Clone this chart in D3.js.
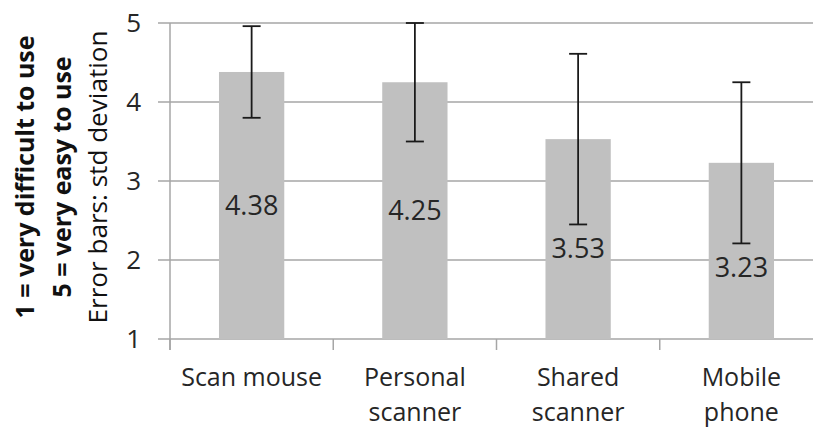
<!DOCTYPE html>
<html><head><meta charset="utf-8">
<script src="https://cdn.jsdelivr.net/npm/d3@7"></script>
<style>body{margin:0;background:#fff}svg{display:block}</style>
</head><body>
<svg id="c" width="813" height="428"></svg>
<script>
const categories = [["Scan mouse"], ["Personal", "scanner"], ["Shared", "scanner"], ["Mobile", "phone"]];
const means = [4.38, 4.25, 3.53, 3.23];
const stdDevs = [0.58, 0.75, 1.08, 1.02];
const valueLabels = ["4.38", "4.25", "3.53", "3.23"];
const yTicks = [1, 2, 3, 4, 5];
const titleLines = ["1 = very difficult to use", "5 = very easy to use", "Error bars: std deviation"];

const svg = d3.select("#c");
const font = "'Open Sans', sans-serif";
const textCol = "#262626";
const gridCol = "#a6a6a6";

const x = d3.scaleBand().domain(d3.range(categories.length)).range([170, 823]).paddingInner(0.6).paddingOuter(0.3);
const y = d3.scaleLinear().domain([1, 5]).range([339, 23]);

// gridlines + y ticks
svg.append("g").selectAll("line").data(yTicks).join("line")
  .attr("x1", 158).attr("x2", 813)
  .attr("y1", d => y(d)).attr("y2", d => y(d))
  .attr("stroke", gridCol).attr("stroke-width", 1.5);

svg.append("g").selectAll("text").data(yTicks).join("text")
  .attr("x", 141).attr("y", d => y(d)).attr("dy", "0.36em")
  .attr("text-anchor", "end").attr("font-family", font).attr("font-size", 26).attr("fill", textCol)
  .text(d => d);

// bars
svg.append("g").selectAll("rect").data(means).join("rect")
  .attr("x", (d, i) => x(i)).attr("width", x.bandwidth())
  .attr("y", d => y(d)).attr("height", d => y(1) - y(d))
  .attr("fill", "#c0c0c0");

// y axis line
svg.append("line").attr("x1", 170).attr("x2", 170).attr("y1", y(5)).attr("y2", y(1) + 11)
  .attr("stroke", gridCol).attr("stroke-width", 1.5);
// category ticks
const step = x.step();
svg.append("g").selectAll("line").data(d3.range(categories.length + 1)).join("line")
  .attr("x1", i => 170 + i * step).attr("x2", i => 170 + i * step)
  .attr("y1", y(1)).attr("y2", y(1) + 11)
  .attr("stroke", gridCol).attr("stroke-width", 1.5);

// error bars
const eb = svg.append("g").attr("stroke", "#1a1a1a").attr("stroke-width", 1.8);
means.forEach((m, i) => {
  const cx = x(i) + x.bandwidth() / 2;
  const top = Math.min(5, m + stdDevs[i]), bot = m - stdDevs[i];
  eb.append("line").attr("x1", cx).attr("x2", cx).attr("y1", y(top)).attr("y2", y(bot));
  eb.append("line").attr("x1", cx - 9).attr("x2", cx + 9).attr("y1", y(top)).attr("y2", y(top));
  eb.append("line").attr("x1", cx - 9).attr("x2", cx + 9).attr("y1", y(bot)).attr("y2", y(bot));
});

// value labels (centered in bar, pushed below error bar when overlapping)
svg.append("g").selectAll("text").data(means).join("text")
  .attr("x", (d, i) => x(i) + x.bandwidth() / 2)
  .attr("y", (d, i) => Math.max((y(d) + y(1)) / 2, y(d - stdDevs[i]) + 24))
  .attr("dy", "0.36em").attr("text-anchor", "middle")
  .attr("font-family", font).attr("font-size", 27).attr("fill", textCol)
  .text((d, i) => valueLabels[i]);

// category labels
const cl = svg.append("g").attr("font-family", font).attr("font-size", 25).attr("fill", textCol).attr("text-anchor", "middle");
categories.forEach((lines, i) => {
  lines.forEach((t, j) => {
    cl.append("text").attr("x", x(i) + x.bandwidth() / 2).attr("y", 386 + j * 35).text(t);
  });
});

// axis title (rotated)
const tx = [25, 62, 98];
const tlen = [283, 241, 293];
titleLines.forEach((t, j) => {
  svg.append("text")
    .attr("transform", `translate(${tx[j]},177) rotate(-90)`)
    .attr("dy", "0.36em").attr("text-anchor", "middle")
    .attr("font-family", font).attr("font-size", 25)
    .attr("textLength", tlen[j]).attr("lengthAdjust", "spacingAndGlyphs")
    .attr("font-weight", j < 2 ? "bold" : "normal").attr("fill", "#111")
    .text(t);
});
</script>
</body></html>
